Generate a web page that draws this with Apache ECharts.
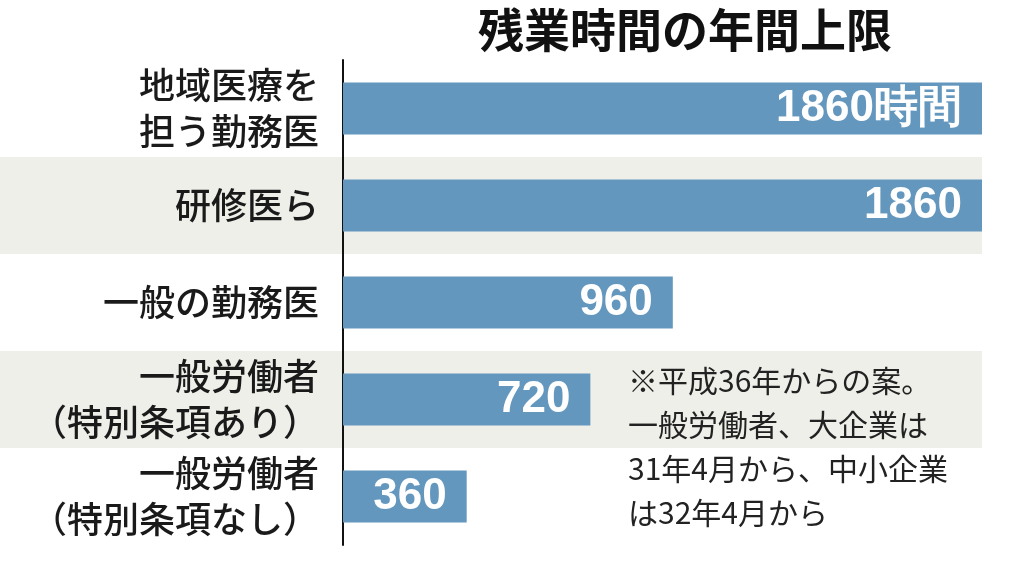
<!DOCTYPE html>
<html><head><meta charset="utf-8">
<script src="https://cdn.jsdelivr.net/npm/echarts@6/dist/echarts.min.js"></script>
<style>html,body{margin:0;padding:0;background:#fff}#main{width:1024px;height:565px}</style>
</head><body><div id="main"></div>
<script>
var categories = ['地域医療を\n担う勤務医', '研修医ら', '一般の勤務医', '一般労働者\n（特別条項あり）', '一般労働者\n（特別条項なし）'];
var values = [1860, 1860, 960, 720, 360];
var barLabels = ['1860時間', '1860', '960', '720', '360'];
var noteLines = ['※平成36年からの案。', '一般労働者、大企業は', '31年4月から、中小企業', 'は32年4月から'];

var chart = echarts.init(document.getElementById('main'));
var font = '"Noto Sans CJK JP", sans-serif';

var graphics = noteLines.map(function (t, i) {
	return {type: 'text', left: 628, top: 366 + i * 44, z: 10,
		style: {text: t, font: '30px "Noto Sans CJK JP"', fill: '#222'}};
});
// extend alternating bands to the left edge
graphics.push({type: 'rect', left: 0, top: 157, z: -1, shape: {width: 343, height: 97}, style: {fill: '#efefea'}});
graphics.push({type: 'rect', left: 0, top: 351, z: -1, shape: {width: 343, height: 97}, style: {fill: '#efefea'}});

chart.setOption({
	animation: false,
	title: {
		text: '残業時間の年間上限',
		left: 680, top: 2, textAlign: 'center',
		textStyle: {fontFamily: font, fontSize: 46, fontWeight: 'bold', color: '#111'}
	},
	grid: {left: 343, right: 42, top: 60, bottom: 20},
	xAxis: {type: 'value', min: 0, max: 1860, show: false},
	yAxis: {
		type: 'category', inverse: true, data: categories,
		axisLine: {lineStyle: {color: '#111', width: 2}},
		axisTick: {show: false},
		splitArea: {show: true, areaStyle: {color: ['rgba(0,0,0,0)', '#efefea']}},
		axisLabel: {fontFamily: font, fontSize: 36, fontWeight: 500, color: '#1a1a1a', lineHeight: 46, margin: 24, align: 'right'}
	},
	series: [{
		type: 'bar', data: values, barWidth: 52,
		itemStyle: {color: '#6497be'},
		label: {
			show: true, position: 'insideRight', distance: 20,
			fontFamily: 'Liberation Sans, sans-serif', fontSize: 44, fontWeight: 'bold', color: '#fff',
			formatter: function (p) { return barLabels[p.dataIndex]; }
		}
	}],
	graphic: graphics
});
</script></body></html>
